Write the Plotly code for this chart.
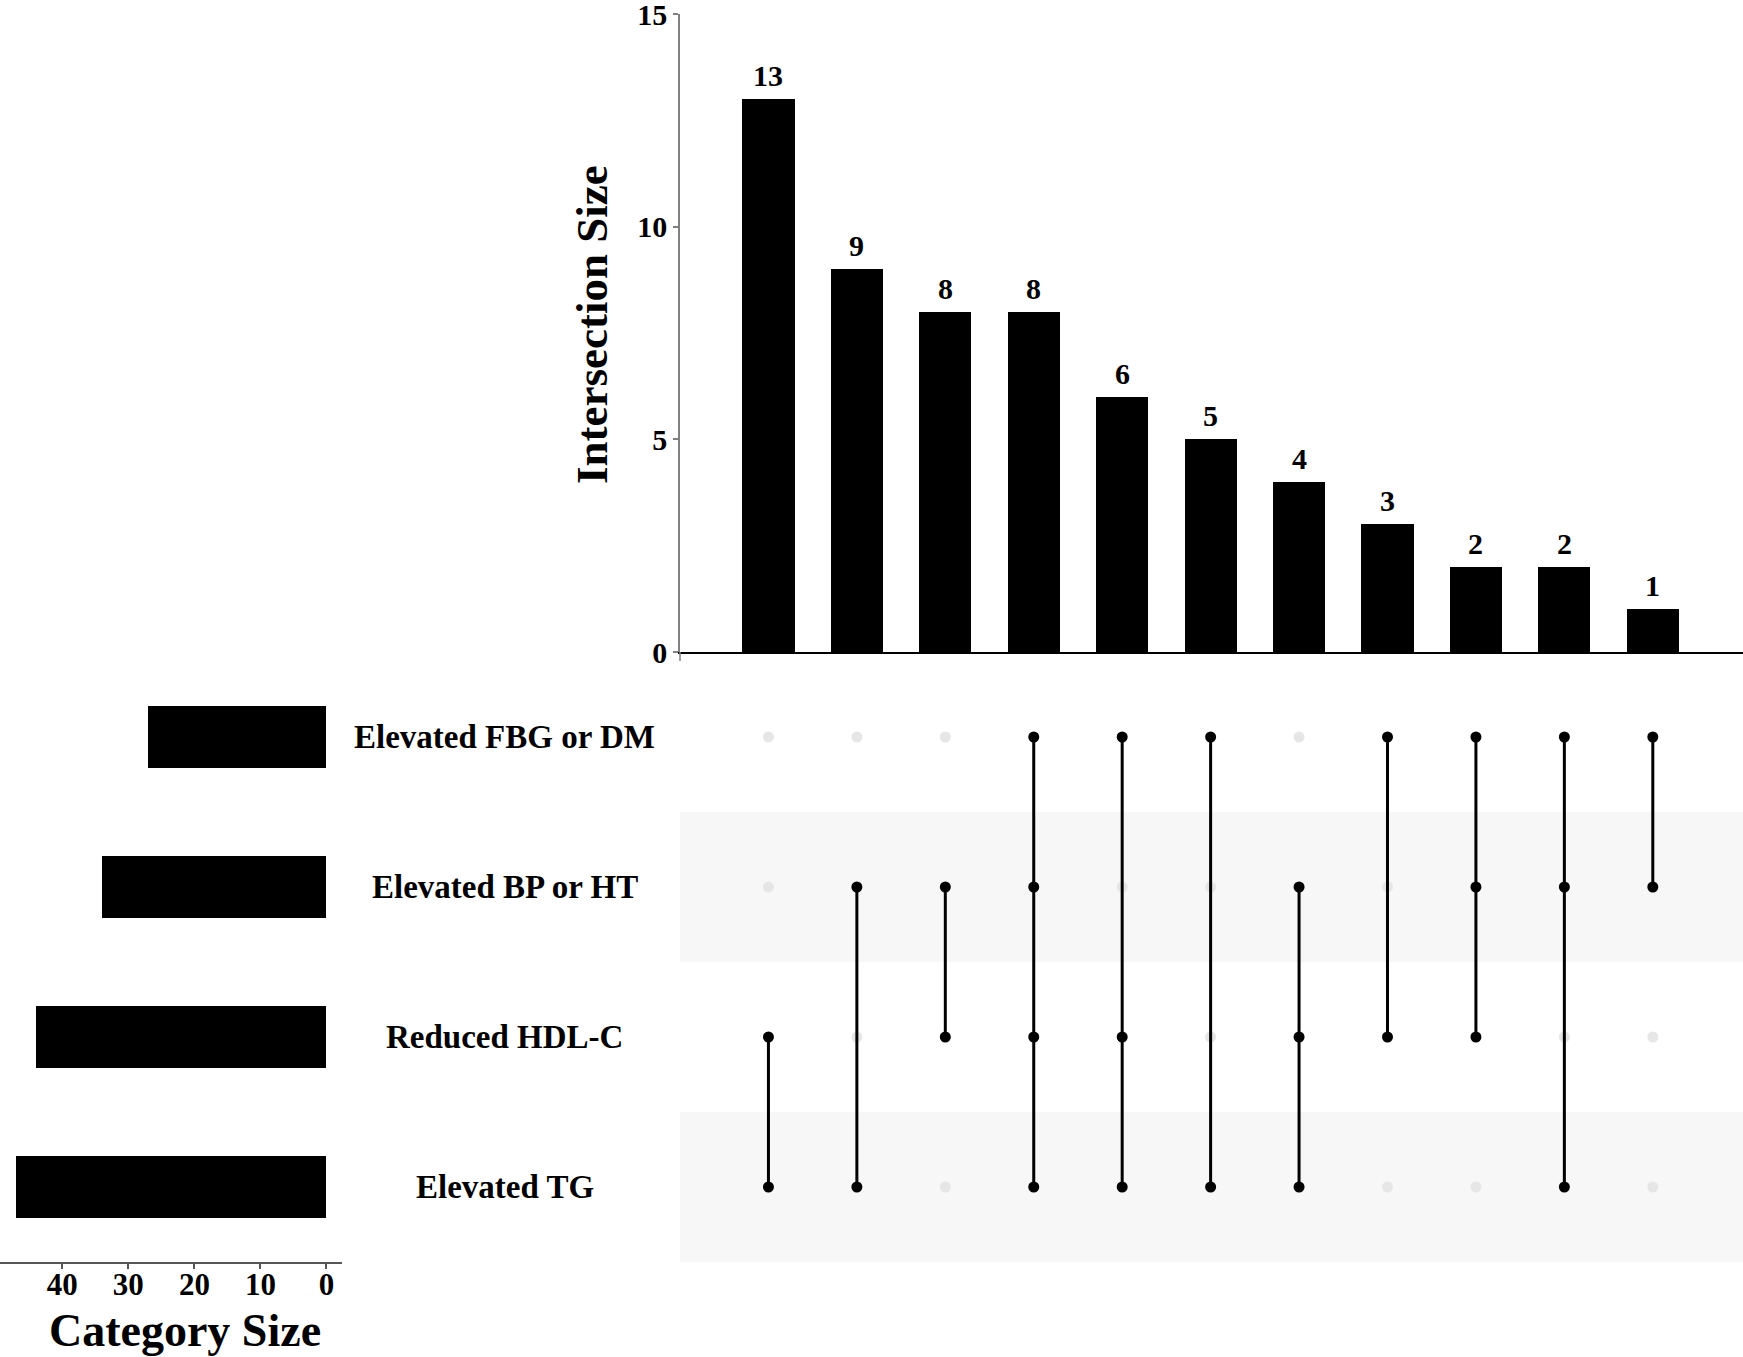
import plotly.graph_objects as go

# ---------------- data ----------------
categories = ["Elevated FBG or DM", "Elevated BP or HT", "Reduced HDL-C", "Elevated TG"]
category_sizes = [27, 34, 44, 47]
intersection_sizes = [13, 9, 8, 8, 6, 5, 4, 3, 2, 2, 1]
memberships = [
    ["Reduced HDL-C", "Elevated TG"],
    ["Elevated BP or HT", "Elevated TG"],
    ["Elevated BP or HT", "Reduced HDL-C"],
    ["Elevated FBG or DM", "Elevated BP or HT", "Reduced HDL-C", "Elevated TG"],
    ["Elevated FBG or DM", "Reduced HDL-C", "Elevated TG"],
    ["Elevated FBG or DM", "Elevated TG"],
    ["Elevated BP or HT", "Reduced HDL-C", "Elevated TG"],
    ["Elevated FBG or DM", "Reduced HDL-C"],
    ["Elevated FBG or DM", "Elevated BP or HT", "Reduced HDL-C"],
    ["Elevated FBG or DM", "Elevated BP or HT", "Elevated TG"],
    ["Elevated FBG or DM", "Elevated BP or HT"],
]
intersection_ticks = [0, 5, 10, 15]
category_ticks = [0, 10, 20, 30, 40]

# ---------------- layout helpers ----------------
W, H = 1743, 1357
def fx(px):
    return px / W
def fy(py):
    return 1 - py / H

FONT = "Liberation Serif, Times New Roman, serif"
n_int = len(intersection_sizes)
cols = list(range(n_int))
rows = list(range(len(categories)))

fig = go.Figure()

# top intersection bars
fig.add_trace(go.Bar(
    x=cols, y=intersection_sizes, width=0.59,
    marker=dict(color="black", line=dict(width=0)),
    xaxis="x", yaxis="y", hoverinfo="skip",
))

# matrix: background dots
for ci, mem in enumerate(memberships):
    idx = [categories.index(m) for m in mem]
    non = [r for r in rows if r not in idx]
    fig.add_trace(go.Scatter(
        x=[ci] * len(non), y=non, mode="markers",
        marker=dict(size=11, color="#e6e6e6"),
        xaxis="x2", yaxis="y2", hoverinfo="skip",
    ))
for ci, mem in enumerate(memberships):
    idx = sorted(categories.index(m) for m in mem)
    fig.add_trace(go.Scatter(
        x=[ci, ci], y=[idx[0], idx[-1]], mode="lines",
        line=dict(color="black", width=3),
        xaxis="x2", yaxis="y2", hoverinfo="skip",
    ))
    fig.add_trace(go.Scatter(
        x=[ci] * len(idx), y=idx, mode="markers",
        marker=dict(size=11, color="black"),
        xaxis="x2", yaxis="y2", hoverinfo="skip",
    ))

# left category bars
fig.add_trace(go.Bar(
    x=category_sizes, y=rows, orientation="h", width=0.41,
    marker=dict(color="black", line=dict(width=0)),
    xaxis="x3", yaxis="y3", hoverinfo="skip",
))

shapes = []
# shaded bands for rows 1 and 3
for r in rows:
    if r % 2 == 1:
        shapes.append(dict(
            type="rect", xref="paper", yref="y2",
            x0=fx(680), x1=1, y0=r - 0.5, y1=r + 0.5,
            fillcolor="#f7f7f7", line=dict(width=0), layer="below",
        ))
# small extension of the y axis below zero
shapes.append(dict(type="line", xref="paper", yref="paper",
                   x0=fx(680), x1=fx(680), y0=fy(652), y1=fy(661),
                   line=dict(color="#808080", width=1.5)))

annotations = []
for ci, v in enumerate(intersection_sizes):
    annotations.append(dict(
        x=ci, y=v, xref="x", yref="y", text=str(v), showarrow=False,
        yanchor="bottom", yshift=5,
        font=dict(family=FONT, size=30, color="black", weight="bold"),
    ))
for r, c in enumerate(categories):
    annotations.append(dict(
        x=fx(505), y=r, xref="paper", yref="y2", text=c, showarrow=False,
        xanchor="center", yanchor="middle",
        font=dict(family=FONT, size=33, color="black", weight="bold"),
    ))
annotations.append(dict(
    x=fx(592), y=fy(325), xref="paper", yref="paper", text="Intersection Size",
    textangle=-90, showarrow=False, xanchor="center", yanchor="middle",
    font=dict(family=FONT, size=45, color="black", weight="bold"),
))
annotations.append(dict(
    x=fx(185), y=fy(1357), xref="paper", yref="paper", text="Category Size",
    showarrow=False, xanchor="center", yanchor="bottom", borderpad=0,
    font=dict(family=FONT, size=46, color="black", weight="bold"),
))

xr = [-1, 11.02]
fig.update_layout(
    width=W, height=H, margin=dict(l=0, r=0, t=0, b=0, autoexpand=False),
    paper_bgcolor="white", plot_bgcolor="rgba(0,0,0,0)",
    showlegend=False, bargap=0,
    shapes=shapes, annotations=annotations,
    xaxis=dict(domain=[fx(680), 1], range=xr, showticklabels=False, ticks="",
               showgrid=False, zeroline=False, showline=True, automargin=False,
               linecolor="black", linewidth=2, anchor="y"),
    yaxis=dict(domain=[fy(652), fy(14)], range=[0, 15], tickvals=intersection_ticks,
               ticks="outside", ticklen=5, tickcolor="#808080", tickwidth=1.5,
               showgrid=False, zeroline=False, showline=True, automargin=False,
               linecolor="#808080", linewidth=1.5, anchor="x",
               ticklabeloverflow="allow",
               tickfont=dict(family=FONT, size=30, color="black", weight="bold")),
    xaxis2=dict(domain=[fx(680), 1], range=xr, visible=False, anchor="y2", automargin=False),
    yaxis2=dict(domain=[fy(1262), fy(662)], range=[3.5, -0.5], visible=False,
                anchor="x2", automargin=False),
    xaxis3=dict(domain=[0, fx(342)], range=[49.43, -2.35], tickvals=category_ticks,
                ticks="outside", ticklen=5, tickcolor="#555555", tickwidth=1.5,
                showgrid=False, zeroline=False, showline=True, automargin=False,
                linecolor="#555555", linewidth=2, anchor="y3",
                ticklabeloverflow="allow", ticklabelstandoff=-11,
                tickfont=dict(family=FONT, size=31, color="black", weight="bold")),
    yaxis3=dict(domain=[fy(1262), fy(662)], range=[3.5, -0.5], visible=False,
                anchor="x3", automargin=False),
)

fig.write_html(
    "out.html",
    config={"displayModeBar": False},
    post_script="document.body.style.margin='0';document.body.style.overflow='hidden';",
)
